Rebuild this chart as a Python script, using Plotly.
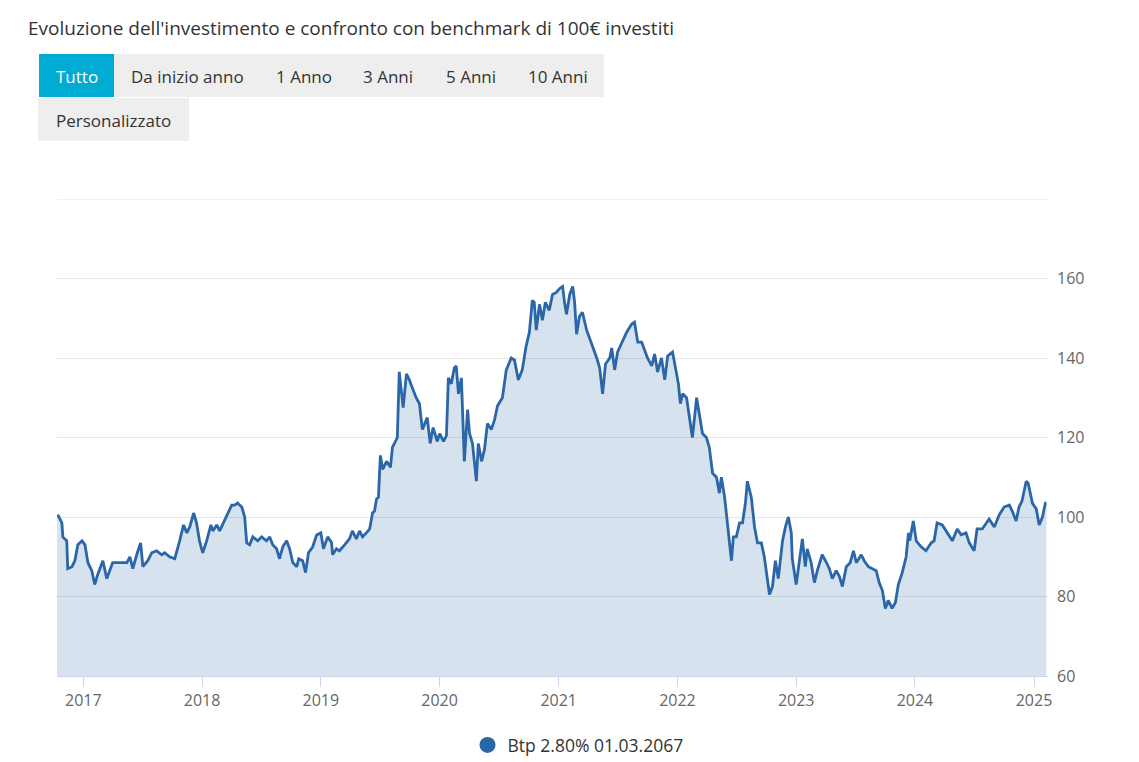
import plotly.graph_objects as go

dates = [
    "2016-10-12", "2016-10-15", "2016-10-27", "2016-10-30", "2016-11-11", "2016-11-14",
    "2016-11-27", "2016-12-06", "2016-12-15", "2016-12-28",
    "2017-01-06", "2017-01-15", "2017-01-27", "2017-02-05", "2017-02-14", "2017-03-02",
    "2017-03-14", "2017-03-23", "2017-04-01", "2017-04-17", "2017-05-02", "2017-05-15",
    "2017-05-24", "2017-06-02", "2017-06-14", "2017-06-26", "2017-07-03", "2017-07-18",
    "2017-07-30", "2017-08-14", "2017-08-30", "2017-09-08", "2017-09-23", "2017-10-09",
    "2017-10-24", "2017-11-05", "2017-11-15", "2017-11-24", "2017-12-06", "2017-12-15",
    "2017-12-24",
    "2018-01-03", "2018-01-15", "2018-01-28", "2018-02-03", "2018-02-15", "2018-02-24",
    "2018-03-11", "2018-03-21", "2018-04-02", "2018-04-11", "2018-04-20", "2018-05-03",
    "2018-05-12", "2018-05-18", "2018-05-27", "2018-06-06", "2018-06-21", "2018-07-03",
    "2018-07-18", "2018-07-28", "2018-08-06", "2018-08-18", "2018-08-27", "2018-09-06",
    "2018-09-18", "2018-09-27", "2018-10-07", "2018-10-19", "2018-10-25", "2018-11-06",
    "2018-11-15", "2018-11-24", "2018-12-07", "2018-12-19",
    "2019-01-01", "2019-01-09", "2019-01-22", "2019-02-03", "2019-02-06", "2019-02-18",
    "2019-02-27", "2019-03-15", "2019-03-30", "2019-04-08", "2019-04-20", "2019-04-30",
    "2019-05-09", "2019-05-21", "2019-05-31", "2019-06-09", "2019-06-15", "2019-06-21",
    "2019-06-27", "2019-07-03", "2019-07-10", "2019-07-22", "2019-08-03", "2019-08-09",
    "2019-08-18", "2019-08-24", "2019-08-30", "2019-09-05", "2019-09-11", "2019-09-21",
    "2019-09-30", "2019-10-09", "2019-10-21", "2019-10-31", "2019-11-09", "2019-11-24",
    "2019-12-03", "2019-12-12", "2019-12-25",
    "2020-01-01", "2020-01-13", "2020-01-22", "2020-01-28", "2020-02-06", "2020-02-15",
    "2020-02-21", "2020-02-28", "2020-03-08", "2020-03-17", "2020-03-27", "2020-04-02",
    "2020-04-11", "2020-04-23", "2020-04-29", "2020-05-09", "2020-05-18", "2020-05-27",
    "2020-06-08", "2020-06-18", "2020-06-27", "2020-07-12", "2020-07-24", "2020-08-08",
    "2020-08-18", "2020-08-30", "2020-09-11", "2020-09-23", "2020-10-03", "2020-10-12",
    "2020-10-18", "2020-10-24", "2020-11-03", "2020-11-12", "2020-11-21", "2020-12-03",
    "2020-12-13", "2020-12-25",
    "2021-01-04", "2021-01-13", "2021-01-19", "2021-01-25", "2021-02-04", "2021-02-13",
    "2021-02-19", "2021-02-25", "2021-03-06", "2021-03-15", "2021-03-28", "2021-04-06",
    "2021-04-15", "2021-04-28", "2021-05-07", "2021-05-16", "2021-05-25", "2021-06-07",
    "2021-06-13", "2021-06-22", "2021-07-01", "2021-07-16", "2021-07-29", "2021-08-13",
    "2021-08-22", "2021-09-01", "2021-09-13", "2021-09-22", "2021-10-01", "2021-10-14",
    "2021-10-23", "2021-11-01", "2021-11-13", "2021-11-23", "2021-12-02", "2021-12-17",
    "2021-12-29",
    "2022-01-04", "2022-01-10", "2022-01-17", "2022-01-29", "2022-02-07", "2022-02-16",
    "2022-03-01", "2022-03-10", "2022-03-19", "2022-03-31", "2022-04-09", "2022-04-19",
    "2022-05-01", "2022-05-10", "2022-05-16", "2022-05-26", "2022-06-04", "2022-06-16",
    "2022-06-22", "2022-07-01", "2022-07-11", "2022-07-20", "2022-07-29", "2022-08-04",
    "2022-08-16", "2022-08-26", "2022-09-04", "2022-09-16", "2022-09-25", "2022-10-01",
    "2022-10-11", "2022-10-20", "2022-10-29", "2022-11-07", "2022-11-20", "2022-11-29",
    "2022-12-08", "2022-12-17", "2022-12-20",
    "2023-01-01", "2023-01-11", "2023-01-20", "2023-01-29", "2023-02-04", "2023-02-16",
    "2023-02-26", "2023-03-07", "2023-03-22", "2023-04-04", "2023-04-13", "2023-04-22",
    "2023-05-04", "2023-05-14", "2023-05-23", "2023-06-04", "2023-06-16", "2023-06-26",
    "2023-07-05", "2023-07-20", "2023-07-29", "2023-08-11", "2023-08-23", "2023-09-04",
    "2023-09-13", "2023-09-23", "2023-10-02", "2023-10-11", "2023-10-23", "2023-11-02",
    "2023-11-11", "2023-11-23", "2023-12-05", "2023-12-12", "2023-12-16", "2023-12-27",
    "2024-01-05", "2024-01-20", "2024-02-04", "2024-02-20", "2024-02-29", "2024-03-09",
    "2024-03-25", "2024-04-09", "2024-04-25", "2024-05-10", "2024-05-22", "2024-06-06",
    "2024-06-16", "2024-07-01", "2024-07-10", "2024-07-26", "2024-08-16", "2024-09-01",
    "2024-09-16", "2024-10-01", "2024-10-17", "2024-10-26", "2024-11-07", "2024-11-16",
    "2024-11-25", "2024-12-08", "2024-12-14", "2024-12-27",
    "2025-01-08", "2025-01-17", "2025-01-27", "2025-02-05", "2025-02-08",
]

values = [
    100, 100.5, 98.5, 95, 94, 87,
    87.5, 89, 93, 94,
    93, 88.5, 86.5, 83, 85.5, 89,
    84.5, 86.5, 88.5, 88.5, 88.5, 88.5,
    90, 87, 90.5, 93.5, 87.5, 89,
    91, 91.5, 90.5, 91, 90, 89.5,
    94, 98, 96, 97.5, 101, 98.5,
    94,
    91, 94, 98, 96.5, 98, 96.5,
    99, 101, 103, 103, 103.5, 102.5,
    100, 93.5, 93, 95, 94, 95,
    94, 95, 93, 92, 89.5, 92.5,
    94, 92, 88.5, 87.5, 89.5, 89,
    86, 91, 92.5, 95.5,
    96, 92, 95, 93.5, 90.5, 92,
    91.5, 93, 94.5, 96.5, 94.5, 96.5,
    95, 96, 97, 101, 101.5, 104.5,
    105, 115.5, 112, 114, 112.5, 117.5,
    119, 120, 136.5, 132.5, 127.5, 136,
    134.5, 132.5, 130, 128.5, 122, 125,
    118.5, 122.5, 119,
    121, 119, 120.5, 135, 133.5, 137.5,
    138, 131, 135, 114, 127, 121,
    118.5, 109, 118.5, 114, 117, 123.5,
    122, 124.5, 128, 130, 137, 140,
    139.5, 134.5, 137, 143, 146.5, 154.5,
    154, 147, 153.5, 149.5, 154, 152,
    156, 156.5,
    157.5, 158, 154, 151, 156, 158,
    154, 146, 150.5, 151.5, 147, 145,
    142.5, 140, 137.5, 131, 138.5, 140,
    142.5, 137, 141.5, 144, 146.5, 148.5,
    149, 144, 144, 142, 140, 138,
    141, 136.5, 140, 134.5, 140.5, 141.5,
    136,
    133.5, 128.5, 131, 130, 125, 120,
    130, 126, 121, 120, 117.5, 111,
    110, 106, 110, 105, 98.5, 89,
    95, 95, 98.5, 98.5, 103.5, 109,
    105, 97.5, 93.5, 93.5, 90, 86.5,
    80.5, 82.5, 89, 84.5, 94, 97.5,
    100, 96, 89.5,
    83, 89.5, 94.5, 87.5, 92, 88.5,
    83.5, 86.5, 90.5, 88.5, 87, 84.5,
    86.5, 85, 82.5, 87.5, 88.5, 91.5,
    88.5, 90.5, 89, 87.5, 87, 86.5,
    83.5, 81.5, 77, 79, 77, 78.5,
    83, 86, 90, 96, 94, 99,
    94, 92.5, 91.5, 93.5, 94, 98.5,
    98, 96, 94, 97, 95.5, 96,
    93.5, 91.5, 97, 97, 99.5, 97.5,
    100.5, 102.5, 103, 101.5, 99, 102.5,
    104, 109, 108.5, 103.5,
    102, 98, 100, 103.5, 103.5,
]

y_ticks = [60, 80, 100, 120, 140, 160]
y_labels = ["60", "80", "100", "120", "140", "160"]
x_ticks = ["2017-01-01", "2018-01-01", "2019-01-01", "2020-01-01", "2021-01-01",
           "2022-01-01", "2023-01-01", "2024-01-01", "2025-01-01"]
x_labels = ["2017", "2018", "2019", "2020", "2021", "2022", "2023", "2024", "2025"]

series_name = "Btp 2.80% 01.03.2067"
buttons = ["Tutto", "Da inizio anno", "1 Anno", "3 Anni", "5 Anni", "10 Anni", "Personalizzato"]

# page body adds an 8px offset, so positions below are given in screen pixels
OFF = 8
W, H = 1139 - OFF, 762 - OFF
L, R, T, B = 57, 1048, 199, 676
LINE = "#2b66a8"
FONT = "Open Sans, Noto Sans, sans-serif"


def px(x):
    return (x - L) / (R - L)


def py(y):
    return (B - y) / (B - T)


fig = go.Figure()

fig.add_trace(go.Scatter(
    x=dates,
    y=values,
    mode="lines",
    line=dict(color=LINE, width=2.8),
    fill="tozeroy",
    fillcolor="rgba(43,102,168,0.19)",
    showlegend=False,
    name=series_name,
))

# legend entry shown as a circle
fig.add_trace(go.Scatter(
    x=[None],
    y=[None],
    mode="markers",
    marker=dict(color=LINE, size=18),
    name=series_name,
))

# range selector buttons (static look)
btn_boxes = [(39, 114), (114, 261), (261, 346), (346, 430), (430, 512), (512, 604)]
shapes = [
    dict(type="line", xref="paper", yref="y", x0=0, x1=1, y0=180, y1=180,
         line=dict(color="#e6e6e6", width=1), layer="below"),
    dict(type="rect", xref="paper", yref="paper", x0=px(114), x1=px(604), y0=py(97), y1=py(54),
         fillcolor="#eeeeee", line_width=0, layer="above"),
    dict(type="rect", xref="paper", yref="paper", x0=px(39), x1=px(114), y0=py(97), y1=py(54),
         fillcolor="#00acd3", line_width=0, layer="above"),
    dict(type="rect", xref="paper", yref="paper", x0=px(38), x1=px(189), y0=py(141), y1=py(98),
         fillcolor="#eeeeee", line_width=0, layer="above"),
]
annotations = []
for i, (x0, x1) in enumerate(btn_boxes):
    annotations.append(dict(
        text=buttons[i], xref="paper", yref="paper", x=px((x0 + x1) / 2), y=py(76),
        showarrow=False, xanchor="center", yanchor="middle",
        font=dict(size=17, color="white" if i == 0 else "#333333", family=FONT),
    ))
annotations.append(dict(
    text=buttons[6], xref="paper", yref="paper", x=px(113.5), y=py(120),
    showarrow=False, xanchor="center", yanchor="middle",
    font=dict(size=17, color="#333333", family=FONT),
))

fig.update_layout(
    width=W,
    height=H,
    margin=dict(l=L - OFF, r=1139 - R, t=T - OFF, b=762 - B),
    paper_bgcolor="white",
    plot_bgcolor="white",
    font=dict(family=FONT, color="#666666", size=16),
    title=dict(
        text="Evoluzione dell'investimento e confronto con benchmark di 100€ investiti",
        x=(28 - OFF) / W, xanchor="left", y=1 - (28 - OFF) / H, yanchor="middle",
        font=dict(size=19, color="#333333", family=FONT),
    ),
    shapes=shapes,
    annotations=annotations,
    showlegend=True,
    legend=dict(
        orientation="h", xref="container", yref="container",
        x=(578 - OFF) / W, xanchor="center", y=(762 - 745) / H, yanchor="middle",
        font=dict(size=17.5, color="#333333", family=FONT),
    ),
    hovermode="x",
)

fig.update_xaxes(
    type="date",
    range=["2016-10-12", "2025-02-13"],
    tickvals=x_ticks,
    ticktext=x_labels,
    showgrid=False,
    showline=True,
    linecolor="#ccd6eb",
    linewidth=1,
    ticks="outside",
    ticklen=10,
    tickcolor="#ccd6eb",
    tickfont=dict(size=16, color="#666666"),
    zeroline=False,
)

fig.update_yaxes(
    side="right",
    range=[60, 180],
    tickvals=y_ticks,
    ticktext=y_labels,
    showgrid=True,
    gridcolor="#e6e6e6",
    gridwidth=1,
    zeroline=False,
    ticks="",
    ticklabelstandoff=8,
    tickfont=dict(size=16, color="#666666"),
)

fig.write_html("out.html")
